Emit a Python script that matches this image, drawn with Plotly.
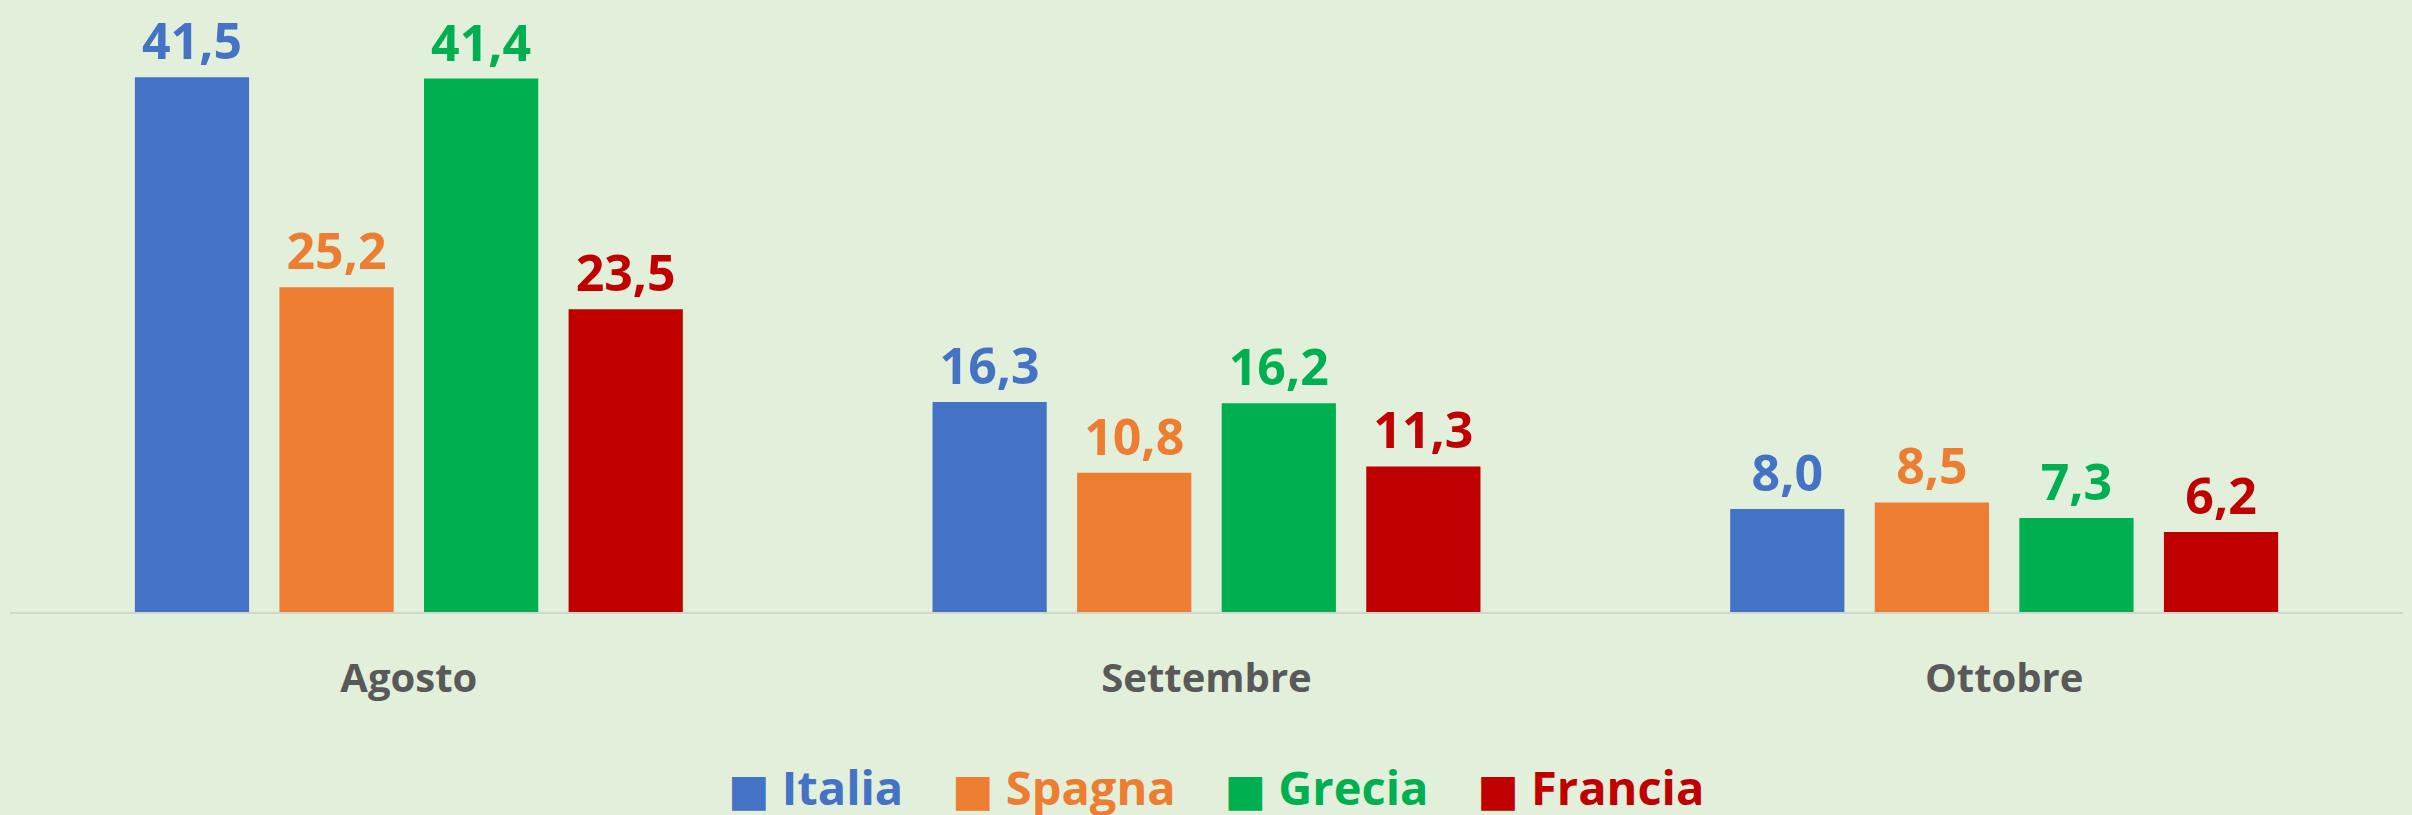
import plotly.graph_objects as go

# chart data
mesi = ["Agosto", "Settembre", "Ottobre"]
paesi = ["Italia", "Spagna", "Grecia", "Francia"]
italia = [41.5, 16.3, 8.0]
spagna = [25.2, 10.8, 8.5]
grecia = [41.4, 16.2, 7.3]
francia = [23.5, 11.3, 6.2]
colori = ["#4472C4", "#ED7D31", "#00B050", "#C00000"]

serie = [italia, spagna, grecia, francia]
FONT = "Open Sans"

fig = go.Figure()
for nome, valori, col in zip(paesi, serie, colori):
    fig.add_trace(go.Bar(
        x=mesi, y=valori, name=nome,
        marker=dict(color=col, line=dict(width=0)),
        texttemplate="%{y:.1f}", textposition="outside",
        textfont=dict(family=FONT, size=50, color=col, weight="bold"),
        cliponaxis=False, showlegend=False,
    ))

# legend drawn as one text line with coloured squares
voci = []
for nome, col in zip(paesi, colori):
    voci.append(f"<span style='color:{col}'><span style='font-family:DejaVu Sans;font-size:44px'>■</span> {nome}</span>")
legenda = "\u00a0\u00a0\u00a0\u00a0".join(voci)

fig.add_annotation(
    text=legenda, xref="paper", yref="paper", x=0.504, y=-0.286,
    xanchor="center", yanchor="middle", showarrow=False,
    font=dict(family=FONT, size=47, weight="bold"),
)

fig.update_layout(
    width=2412, height=815,
    paper_bgcolor="#E2EFDA", plot_bgcolor="#E2EFDA",
    margin=dict(l=10, r=9, t=0, b=203),
    barmode="group", bargap=0.275, bargroupgap=0.21,
    separators=",.",
    showlegend=False,
)
fig.update_xaxes(
    showline=True, linecolor="#D0D7CC", linewidth=2,
    showgrid=False, ticks="outside", ticklen=30, tickcolor="rgba(0,0,0,0)",
    tickfont=dict(family=FONT, size=40, color="#595959", weight="bold"),
)
fig.update_yaxes(range=[0, 47.5], visible=False, showgrid=False, zeroline=False)

fig.write_html("out.html", config={"displayModeBar": False},
               post_script="document.body.style.margin='0';")
